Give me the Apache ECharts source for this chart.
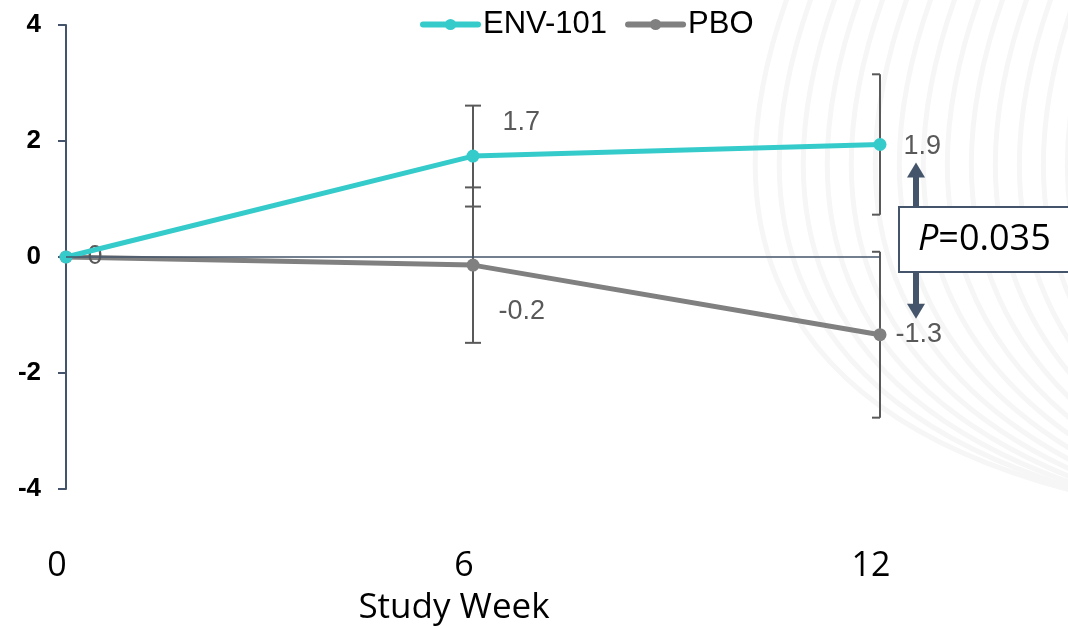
<!DOCTYPE html>
<html>
<head>
<meta charset="utf-8">
<script src="https://cdn.jsdelivr.net/npm/echarts@6/dist/echarts.min.js"></script>
<style>
html,body{margin:0;padding:0;background:#fff;}
#main{width:1068px;height:628px;}
</style>
</head>
<body>
<div id="main"></div>
<script>
// ---- data ----
const weeks = [0, 6, 12];
const envValues = [0, 1.74, 1.94];
const pboValues = [0, -0.14, -1.34];
const envLabels = ['', '1.7', '1.9'];
const pboLabels = ['0', '-0.2', '-1.3'];
const envErr = [0, 0.87, 1.21];
const pboErr = [0, 1.34, 1.43];
const xTickLabels = ['0', '6', '12'];
const yTickValues = [-4, -2, 0, 2, 4];
const yTickLabels = ['-4', '-2', '0', '2', '4'];
const pValueText = '=0.035';

const chart = echarts.init(document.getElementById('main'));

const ENV_COLOR = '#36CBCB';
const PBO_COLOR = '#808080';
const AXIS_COLOR = '#44546A';
const ARIAL = 'Arial';

const envLabelOffsets = [[0, 0], [18, -34], [12, 2]];
const pboLabelOffsets = [[10, 0], [14, 46], [4, 0]];

function lineData(vals, labels, offs) {
  return vals.map((v, i) => ({
    value: [weeks[i], v],
    label: { show: labels[i] !== '', formatter: labels[i], offset: offs[i] }
  }));
}

function errData(vals, errs) {
  return vals.map((v, i) => [weeks[i], v, v - errs[i], v + errs[i]]).filter((d, i) => errs[i] > 0);
}

function renderErr(params, api) {
  const x = api.value(0);
  const lo = api.coord([x, api.value(2)]);
  const hi = api.coord([x, api.value(3)]);
  const last = x === weeks[weeks.length - 1];
  const capL = 8, capR = last ? 0 : 8;
  const style = { stroke: '#595959', lineWidth: 2 };
  return {
    type: 'group',
    children: [
      { type: 'line', shape: { x1: lo[0], y1: lo[1], x2: hi[0], y2: hi[1] }, style },
      { type: 'line', shape: { x1: lo[0] - capL, y1: lo[1], x2: lo[0] + capR, y2: lo[1] }, style },
      { type: 'line', shape: { x1: hi[0] - capL, y1: hi[1], x2: hi[0] + capR, y2: hi[1] }, style }
    ]
  };
}

const option = {
  backgroundColor: '#ffffff',
  animation: false,
  grid: { left: 66, right: 188, top: 25, bottom: 139, containLabel: false, outerBoundsMode: 'none' },
  legend: {
    top: 4,
    left: 415,
    itemWidth: 55,
    itemHeight: 14,
    itemGap: 18,
    data: ['ENV-101', 'PBO'],
    lineStyle: { width: 6, cap: 'round' },
    textStyle: { fontFamily: ARIAL, fontSize: 31, color: '#000' }
  },
  xAxis: {
    type: 'value',
    min: 0, max: 12, interval: 6,
    axisLine: { show: false },
    axisTick: { show: false },
    splitLine: { show: false },
    axisLabel: {
      margin: 60,
      fontFamily: 'Open Sans',
      fontSize: 34,
      color: '#000',
      padding: [0, 18, 0, 0],
      formatter: v => xTickLabels[weeks.indexOf(v)]
    },
    name: 'Study Week',
    nameLocation: 'middle',
    nameGap: 102,
    nameTextStyle: { fontFamily: 'Open Sans', fontSize: 35, color: '#000', padding: [0, 38, 0, 0] }
  },
  yAxis: {
    type: 'value',
    min: -4, max: 4, interval: 2,
    axisLine: { show: true, onZero: false, lineStyle: { color: AXIS_COLOR, width: 2 } },
    axisTick: { show: true, length: 8, lineStyle: { color: AXIS_COLOR, width: 2 } },
    splitLine: { show: false },
    axisLabel: {
      margin: 25,
      fontFamily: ARIAL,
      fontWeight: 'bold',
      fontSize: 26,
      color: '#000',
      formatter: v => yTickLabels[yTickValues.indexOf(v)]
    }
  },
  series: [
    {
      type: 'custom',
      name: 'envErr',
      renderItem: renderErr,
      data: errData(envValues, envErr),
      z: 1,
      silent: true
    },
    {
      type: 'custom',
      name: 'pboErr',
      renderItem: renderErr,
      data: errData(pboValues, pboErr),
      z: 1,
      silent: true
    },
    {
      name: 'PBO',
      type: 'line',
      data: lineData(pboValues, pboLabels, pboLabelOffsets),
      symbol: 'circle',
      symbolSize: 13,
      lineStyle: { color: PBO_COLOR, width: 5 },
      itemStyle: { color: PBO_COLOR },
      label: { position: 'right', fontFamily: ARIAL, fontSize: 27, color: '#595959' },
      markLine: {
        silent: true,
        symbol: 'none',
        label: { show: false },
        lineStyle: { color: AXIS_COLOR, width: 1.5, type: 'solid' },
        data: [[{ coord: [0, 0] }, { coord: [12, 0] }]]
      },
      z: 3
    },
    {
      name: 'ENV-101',
      type: 'line',
      data: lineData(envValues, envLabels, envLabelOffsets),
      symbol: 'circle',
      symbolSize: 13,
      lineStyle: { color: ENV_COLOR, width: 5 },
      itemStyle: { color: ENV_COLOR },
      label: { position: 'right', fontFamily: ARIAL, fontSize: 27, color: '#595959' },
      z: 4
    }
  ]
};

chart.setOption(option);

// annotation: P-value box with arrows, anchored to week 12 points
const lastWeek = weeks[weeks.length - 1];
const pEnv = chart.convertToPixel({ gridIndex: 0 }, [lastWeek, envValues[envValues.length - 1]]);
const pPbo = chart.convertToPixel({ gridIndex: 0 }, [lastWeek, pboValues[pboValues.length - 1]]);
const pZero = chart.convertToPixel({ gridIndex: 0 }, [lastWeek, 0]);
const boxX = pEnv[0] + 19, boxY = pZero[1] - 50, boxH = 65;
const arrowX = pEnv[0] + 36;

// faint decorative curves in the background on the right
const curves = [];
for (let i = 0; i < 16; i++) {
  const x0 = 750 + i * 24;
  curves.push({
    type: 'bezierCurve',
    shape: { x1: x0 + 40, y1: -10, cpx1: x0 - 30, cpy1: 180, cpx2: x0 - 20, cpy2: 400, x2: x0 + 320, y2: 490 + i * 4 },
    style: { fill: 'none', stroke: '#f6f6f6', lineWidth: 5 },
    z: -10, silent: true
  });
}

chart.setOption({
  graphic: curves.concat([
    {
      type: 'line',
      shape: { x1: arrowX, y1: boxY, x2: arrowX, y2: pEnv[1] + 30 },
      style: { stroke: AXIS_COLOR, lineWidth: 6 },
      z: 10
    },
    {
      type: 'polygon',
      shape: { points: [[arrowX, pEnv[1] + 18], [arrowX - 9, pEnv[1] + 33], [arrowX + 9, pEnv[1] + 33]] },
      style: { fill: AXIS_COLOR },
      z: 10
    },
    {
      type: 'line',
      shape: { x1: arrowX, y1: boxY + boxH, x2: arrowX, y2: pPbo[1] - 28 },
      style: { stroke: AXIS_COLOR, lineWidth: 6 },
      z: 10
    },
    {
      type: 'polygon',
      shape: { points: [[arrowX, pPbo[1] - 16], [arrowX - 9, pPbo[1] - 31], [arrowX + 9, pPbo[1] - 31]] },
      style: { fill: AXIS_COLOR },
      z: 10
    },
    {
      type: 'rect',
      shape: { x: boxX, y: boxY, width: 220, height: boxH },
      style: { fill: '#ffffff', stroke: AXIS_COLOR, lineWidth: 2 },
      z: 11
    },
    {
      type: 'text',
      x: boxX + 19,
      y: boxY + boxH / 2,
      style: {
        text: '{i|P}{n|' + pValueText + '}',
        verticalAlign: 'middle',
        rich: {
          i: { fontFamily: 'Open Sans', fontStyle: 'italic', fontSize: 36, fill: '#000' },
          n: { fontFamily: 'Open Sans', fontSize: 36, fill: '#000' }
        }
      },
      z: 12
    }
  ])
});
</script>
</body>
</html>
